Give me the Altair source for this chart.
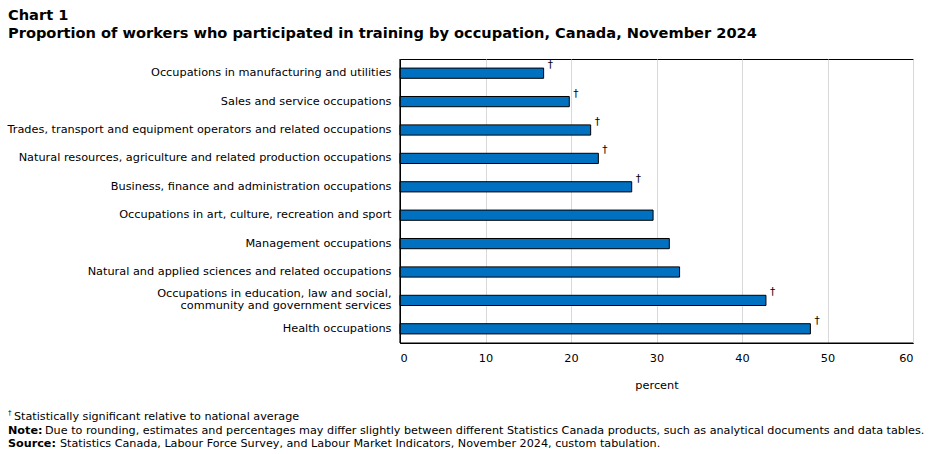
import altair as alt
import pandas as pd

categories = [
    "Occupations in manufacturing and utilities",
    "Sales and service occupations",
    "Trades, transport and equipment operators and related occupations",
    "Natural resources, agriculture and related production occupations",
    "Business, finance and administration occupations",
    "Occupations in art, culture, recreation and sport",
    "Management occupations",
    "Natural and applied sciences and related occupations",
    "Occupations in education, law and social,|community and government services",
    "Health occupations",
]
values = [16.8, 19.8, 22.3, 23.2, 27.1, 29.6, 31.5, 32.7, 42.8, 48.0]
flags = ["†", "†", "†", "†", "†", "", "", "", "†", "†"]

df = pd.DataFrame({"cat": categories, "val": values, "flag": flags})

FONT = "DejaVu Sans"

y_enc = alt.Y(
    "cat:N",
    sort=categories,
    title=None,
    scale=alt.Scale(paddingInner=0.64, paddingOuter=0.32),
    axis=alt.Axis(
        labelExpr="split(datum.label, '|')",
        labelFont=FONT, labelFontSize=11.3, labelColor="#000000",
        labelPadding=9, ticks=False, domain=True, domainColor="#000000", domainWidth=1,
        grid=False, labelLimit=400, labelLineHeight=12,
        labelOffset={"condition": {"test": "indexof(datum.label, '|') >= 0", "value": -6}, "value": 0},
    ),
)
x_enc = alt.X(
    "val:Q",
    scale=alt.Scale(domain=[0, 60]),
    title="percent",
    axis=alt.Axis(
        values=[0, 10, 20, 30, 40, 50, 60],
        labelFont=FONT, labelFontSize=11.3, labelColor="#000000",
        titleFont=FONT, titleFontSize=11.3, titleFontWeight="normal", titleColor="#000000",
        ticks=False, domain=True, domainColor="#000000", domainWidth=1,
        grid=True, gridColor="#d9d9d9", gridWidth=1,
        labelPadding=9, titlePadding=16,
    ),
)

bars = alt.Chart(df).mark_bar(color="#0070c0", stroke="#000000", strokeWidth=1).encode(
    x=x_enc, y=y_enc
)
daggers = alt.Chart(df).mark_text(
    align="left", baseline="middle", dx=4, dy=-8, font=FONT, fontSize=10.5, color="#000000"
).encode(x="val:Q", y=alt.Y("cat:N", sort=categories), text="flag:N")

frame_left = alt.Chart(pd.DataFrame({"k": [0]})).mark_rule(color="#000000", strokeWidth=1.2).encode(
    x=alt.value(0), y=alt.value(0), y2=alt.value(284)
)
frame_bottom = alt.Chart(pd.DataFrame({"k": [0]})).mark_rule(color="#000000", strokeWidth=1.2).encode(
    x=alt.value(0), x2=alt.value(513), y=alt.value(284)
)


def txt(s, x, y, bold=False, size=11.2):
    return alt.Chart(pd.DataFrame({"t": [s]})).mark_text(
        align="left", baseline="middle", font=FONT, fontSize=size,
        fontWeight="bold" if bold else "normal", color="#000000",
    ).encode(x=alt.value(x), y=alt.value(y), text="t:N")

OX = -392  # offset from plot left (400) to x=8
foot = [
    txt("†", OX, 415 - 59 - 2, size=7),
    txt("Statistically significant relative to national average", OX + 6, 417 - 59),
    txt("Note:", OX, 431 - 59, bold=True),
    txt("Due to rounding, estimates and percentages may differ slightly between different Statistics Canada products, such as analytical documents and data tables.", OX + 37, 431 - 59),
    txt("Source:", OX, 444 - 59, bold=True),
    txt("Statistics Canada, Labour Force Survey, and Labour Market Indicators, November 2024, custom tabulation.", OX + 52, 444 - 59),
]

chart = alt.layer(bars, daggers, frame_left, frame_bottom, *foot).properties(
    width=513,
    height=284,
    autosize=alt.AutoSizeParams(type="none"),
    padding={"left": 400, "top": 59, "right": 17, "bottom": 111},
    title=alt.TitleParams(
        text=["Chart 1", "Proportion of workers who participated in training by occupation, Canada, November 2024"],
        anchor="start", frame="group", dx=-392, offset=18,
        font=FONT, fontSize=14.6, fontWeight="bold", color="#000000", lineHeight=18,
    ),
).configure(background="#ffffff").configure_view(stroke="#000000", strokeWidth=1)

chart.save("out.html", embed_options={"renderer": "svg", "actions": False})
